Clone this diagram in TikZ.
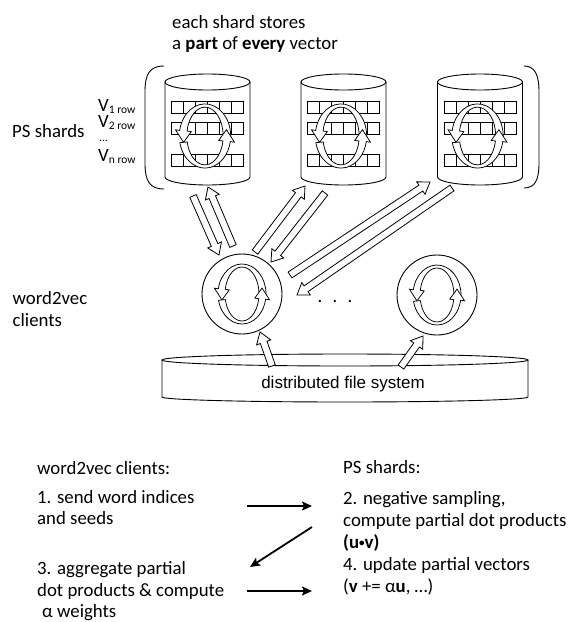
\documentclass[tikz,border=0pt]{standalone}
\usepackage{fontspec}
\setmainfont{Carlito}
\newfontfamily\arialfont{Liberation Sans}
\usetikzlibrary{calc,arrows.meta}

\tikzset{
  outl/.style={draw=black, line width=0.9pt, fill=white},
  barrow/.style={draw=black, line width=0.8pt, fill=white, line join=miter},
  ringst/.style={draw=black, line width=0.75pt, fill=white, line join=miter},
  cellst/.style={draw=black, line width=0.9pt},
  lbl/.style={inner sep=0pt, anchor=base west, font=\fontsize{18.8}{22}\selectfont},
  flow/.style={line width=1.8pt, -{Stealth[length=10pt,width=9pt,inset=2pt]}},
}

% hollow block arrow from #1 (tail) to #2 (tip)
\newcommand\blockarrow[2]{%
  \coordinate (hb) at ($(#2)!11pt!(#1)$);
  \draw[barrow] ($(#1)!3.5pt!90:(#2)$) -- ($(hb)!3.5pt!90:(#2)$) -- ($(hb)!7.5pt!90:(#2)$)
    -- (#2) -- ($(hb)!7.5pt!-90:(#2)$) -- ($(hb)!3.5pt!-90:(#2)$) -- ($(#1)!3.5pt!-90:(#2)$) -- cycle;}

% hollow elliptic arc arrow: #1 start angle, #2 head base angle, #3 tip angle
\newcommand\hollowarc[3]{%
  \draw[ringst] (#1:24 and 30) arc[start angle=#1, end angle=#2, x radius=24, y radius=30]
    -- (#2:28 and 33.5) -- (#3:20.5 and 28.5) -- (#2:13 and 23.5) -- (#2:17 and 27)
    arc[start angle=#2, end angle=#1, x radius=17, y radius=27] -- cycle;}

\newcommand\ringpair{\hollowarc{370}{190}{168}\hollowarc{168}{10}{-12}}

% cylinder (PS shard) centred at x = #1
\newcommand\shard[1]{%
  \begin{scope}[shift={(#1,0)}]
    \draw[outl] (-42.5,82) -- (-42.5,177) arc[start angle=180, end angle=0, x radius=42.5, y radius=8] -- (42.5,82);
    \draw[outl] (0,82) ellipse[x radius=42.5, y radius=8];
    \foreach \r in {101,122,154}
      \foreach \c in {0,...,5}
        \draw[cellst] (-36+12*\c,\r) rectangle ++(12,12);
    \begin{scope}[shift={(-2.5,136)}, scale=1.07]
      \ringpair
    \end{scope}
  \end{scope}}

\newcommand\subrow[1]{\raisebox{-1.5pt}{\fontsize{11.5}{11.5}\selectfont #1}}

\begin{document}
\begin{tikzpicture}[x=1pt, y=-1pt]
\useasboundingbox (0,0) rectangle (569,622);

% ---------- PS shards ----------
\coordinate (cyl1) at (207.5,130);
\coordinate (cyl2) at (343.5,130);
\coordinate (cyl3) at (480,130);
\shard{207.5}
\shard{343.5}
\shard{480}

% brackets
\draw[line width=0.9pt] (164,66) .. controls (149,66) and (145,75) .. (145,92) -- (145,163)
  .. controls (145,180) and (149,189) .. (164,189);
\draw[line width=0.9pt] (524,66) .. controls (535,66) and (539,75) .. (539,92) -- (539,163)
  .. controls (539,180) and (535,188) .. (524,188);

% ---------- distributed file system ----------
\draw[outl] (162,360) -- (162,397) arc[start angle=180, end angle=0, x radius=183, y radius=5] -- (528,360);
\draw[outl] (345,360) ellipse[x radius=183, y radius=6];
\node[inner sep=0pt, anchor=base, font=\arialfont\fontsize{17}{17}\selectfont] (dfs) at (343,388) {distributed file system};

% ---------- clients ----------
\node[circle, draw, line width=0.9pt, fill=white, minimum size=80pt, inner sep=0pt] (cl1) at (242,294) {};
\node[circle, draw, line width=0.9pt, fill=white, minimum size=80pt, inner sep=0pt] (cl2) at (437,295) {};
\begin{scope}[shift={(cl1.center)}] \ringpair \end{scope}
\begin{scope}[shift={(cl2.center)}] \ringpair \end{scope}
\node[inner sep=0pt, font=\fontsize{18.8}{18.8}\selectfont] (dots) at (335,302) {.\hspace{10.3pt}.\hspace{10.3pt}.};

% ---------- block arrows ----------
\coordinate (a1t) at (193,196); \coordinate (a1h) at (219,255);
\coordinate (a2t) at (233,246); \coordinate (a2h) at (208,187);
\coordinate (a3t) at (255,252); \coordinate (a3h) at (305,186);
\coordinate (a4t) at (325,193); \coordinate (a4h) at (271,262);
\coordinate (a5t) at (290,275); \coordinate (a5h) at (430,182);
\coordinate (a6t) at (452,188); \coordinate (a6h) at (297,295);
\coordinate (a7t) at (272,366); \coordinate (a7h) at (260,332);
\coordinate (a8t) at (401,367); \coordinate (a8h) at (423,336);
\blockarrow{a1t}{a1h}
\blockarrow{a2t}{a2h}
\blockarrow{a3t}{a3h}
\blockarrow{a4t}{a4h}
\blockarrow{a5t}{a5h}
\blockarrow{a6t}{a6h}
\blockarrow{a7t}{a7h}
\blockarrow{a8t}{a8h}

% ---------- top labels ----------
\node[lbl] (t1) at (172,28) {each shard stores};
\node[lbl] (t2) at (172,49.5) {a \textbf{part} of \textbf{every} vector};
\node[lbl] (ps) at (12,137) {PS shards};
\node[lbl] (v1) at (98,111.5) {V\subrow{1 row}};
\node[lbl] (v2) at (98,127.5) {V\subrow{2 row}};
\node[lbl, font=\fontsize{11.5}{11.5}\selectfont] (vd) at (99,141) {...};
\node[lbl] (vn) at (98,161.5) {V\subrow{n row}};
\node[lbl] (w2v) at (12.5,304) {word2vec};
\node[lbl] (w2c) at (12.5,326) {clients};

% ---------- bottom legend ----------
\node[lbl] (lh) at (37,474) {word2vec clients:};
\node[lbl] (l1a) at (37,503) {1. send word indices};
\node[lbl] (l1b) at (37,524.5) {and seeds};
\node[lbl] (l3a) at (37,574) {3. aggregate partial};
\node[lbl] (l3b) at (37,596) {dot products \& compute};
\node[lbl] (l3c) at (42,617) {α weights};

\node[lbl] (rh) at (343,473) {PS shards:};
\node[lbl] (r2a) at (343,504) {2. negative sampling,};
\node[lbl] (r2b) at (343,526) {compute partial dot products};
\node[lbl] (r2c) at (343,548) {\textbf{(u{\fontsize{11}{11}\selectfont\raisebox{1.5pt}{•}}v)}};
\node[lbl] (r4a) at (343,570) {4. update partial vectors};
\node[lbl] (r4b) at (343,592) {(\textbf{v} += α\textbf{u}, …)};

\coordinate (f1s) at (247,506); \coordinate (f1e) at (312,506);
\coordinate (f2s) at (312,527); \coordinate (f2e) at (250,567);
\coordinate (f3s) at (247,591); \coordinate (f3e) at (312,591);
\draw[flow] (f1s) -- (f1e);
\draw[flow] (f2s) -- (f2e);
\draw[flow] (f3s) -- (f3e);
\end{tikzpicture}
\end{document}
